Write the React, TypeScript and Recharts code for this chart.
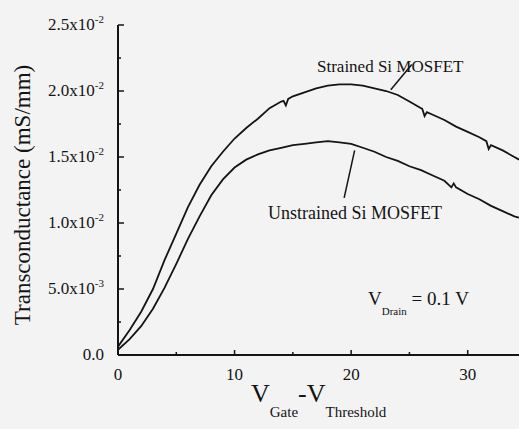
import React from "react";
import { LineChart, Line, XAxis, YAxis, ReferenceLine } from "recharts";

const strained = [
  { x: 0, y: 0.00063 }, { x: 1, y: 0.0019 }, { x: 2, y: 0.0033 }, { x: 3, y: 0.005 },
  { x: 4, y: 0.0072 }, { x: 5, y: 0.0092 }, { x: 6, y: 0.0112 }, { x: 7, y: 0.0129 },
  { x: 8, y: 0.0143 }, { x: 9, y: 0.0154 }, { x: 10, y: 0.0164 }, { x: 11, y: 0.0172 },
  { x: 12, y: 0.0179 }, { x: 13, y: 0.0187 }, { x: 14, y: 0.0192 }, { x: 14.2, y: 0.01925 },
  { x: 14.4, y: 0.0189 }, { x: 14.6, y: 0.0194 }, { x: 15, y: 0.0196 }, { x: 16, y: 0.0199 },
  { x: 17, y: 0.0202 }, { x: 18, y: 0.0204 }, { x: 19, y: 0.0205 }, { x: 20, y: 0.0205 },
  { x: 21, y: 0.0204 }, { x: 22, y: 0.0202 }, { x: 23, y: 0.02 }, { x: 24, y: 0.0197 },
  { x: 25, y: 0.0192 }, { x: 26, y: 0.0187 }, { x: 26.1, y: 0.01865 }, { x: 26.3, y: 0.0181 },
  { x: 26.5, y: 0.0184 }, { x: 27, y: 0.0182 }, { x: 28, y: 0.0178 }, { x: 29, y: 0.0173 },
  { x: 30, y: 0.0169 }, { x: 31, y: 0.0165 }, { x: 31.6, y: 0.0162 }, { x: 31.8, y: 0.0156 },
  { x: 32, y: 0.0159 }, { x: 33, y: 0.0155 }, { x: 34, y: 0.015 }, { x: 34.4, y: 0.0148 },
];

const unstrained = [
  { x: 0, y: 0.0004 }, { x: 1, y: 0.0012 }, { x: 2, y: 0.0022 }, { x: 3, y: 0.0035 },
  { x: 4, y: 0.0051 }, { x: 5, y: 0.0069 }, { x: 6, y: 0.0088 }, { x: 7, y: 0.0105 },
  { x: 8, y: 0.0121 }, { x: 9, y: 0.0133 }, { x: 10, y: 0.0142 }, { x: 11, y: 0.0148 },
  { x: 12, y: 0.0152 }, { x: 13, y: 0.0155 }, { x: 14, y: 0.0157 }, { x: 15, y: 0.0159 },
  { x: 16, y: 0.016 }, { x: 17, y: 0.0161 }, { x: 18, y: 0.0162 }, { x: 19, y: 0.0161 },
  { x: 20, y: 0.016 }, { x: 21, y: 0.0157 }, { x: 22, y: 0.0154 }, { x: 23, y: 0.015 },
  { x: 24, y: 0.0147 }, { x: 25, y: 0.0143 }, { x: 26, y: 0.014 }, { x: 27, y: 0.0136 },
  { x: 28, y: 0.0132 }, { x: 28.6, y: 0.0127 }, { x: 28.8, y: 0.013 }, { x: 29, y: 0.0127 },
  { x: 30, y: 0.0122 }, { x: 31, y: 0.0118 }, { x: 32, y: 0.0113 }, { x: 33, y: 0.0109 },
  { x: 34, y: 0.0105 }, { x: 34.4, y: 0.0104 },
];

const xTicks = [0, 5, 10, 15, 20, 25, 30];
const xMajorLabels: Record<number, string> = { 0: "0", 10: "10", 20: "20", 30: "30" };
const yTicks = [0, 0.0025, 0.005, 0.0075, 0.01, 0.0125, 0.015, 0.0175, 0.02, 0.0225, 0.025];
const yMajorLabels: Record<string, [string, string]> = {
  "0": ["0.0", ""],
  "0.005": ["5.0x10", "-3"],
  "0.01": ["1.0x10", "-2"],
  "0.015": ["1.5x10", "-2"],
  "0.02": ["2.0x10", "-2"],
  "0.025": ["2.5x10", "-2"],
};

const FONT = "\"Liberation Serif\", \"Times New Roman\", \"DejaVu Serif\", serif";
const INK = "#141414";
const TS: React.CSSProperties = { fontFamily: FONT };

const BottomTick = (props: any) => {
  const { x, y, payload } = props;
  const label = xMajorLabels[payload.value];
  const major = label !== undefined;
  return (
    <g>
      <line x1={x} y1={y} x2={x} y2={y - (major ? 5 : 3)} stroke={INK} strokeWidth={1.5} />
      {major && (
        <text x={x} y={y + 25} textAnchor="middle" style={TS} fontSize={17} fill={INK}>
          {label}
        </text>
      )}
    </g>
  );
};

const TopTick = (props: any) => {
  const { x, y, payload } = props;
  const major = xMajorLabels[payload.value] !== undefined;
  return <line x1={x} y1={y} x2={x} y2={y + (major ? 5 : 3)} stroke={INK} strokeWidth={1.5} />;
};

const LeftTick = (props: any) => {
  const { x, y, payload } = props;
  const key = String(payload.value);
  const lab = yMajorLabels[key];
  const major = lab !== undefined;
  return (
    <g>
      <line x1={x} y1={y} x2={x + (major ? 6 : 3)} y2={y} stroke={INK} strokeWidth={1.5} />
      {major && (
        <text x={x - 14} y={y + 5} textAnchor="end" style={TS} fontSize={17} fill={INK}>
          {lab[0]}
          {lab[1] && (
            <tspan dy={-7} fontSize={11}>
              {lab[1]}
            </tspan>
          )}
        </text>
      )}
    </g>
  );
};

export default function App() {
  return (
    <div style={{ position: "absolute", left: 0, top: 0, width: 519, height: 429, background: "#f3f3f3", fontFamily: FONT }}>
      <LineChart
        width={519}
        height={429}
        margin={{ top: 25, right: 0, bottom: 0, left: 0 }}
      >
        <XAxis
          xAxisId="b"
          type="number"
          dataKey="x"
          domain={[0, 34.4]}
          ticks={xTicks}
          allowDataOverflow
          height={74}
          tickSize={0}
          tickMargin={0}
          tickLine={false}
          axisLine={{ stroke: INK, strokeWidth: 2 }}
          tick={<BottomTick />}
        />
        <XAxis
          xAxisId="t"
          orientation="top"
          type="number"
          dataKey="x"
          domain={[0, 34.4]}
          ticks={xTicks}
          allowDataOverflow
          height={0}
          tickSize={0}
          tickMargin={0}
          tickLine={false}
          axisLine={{ stroke: INK, strokeWidth: 2 }}
          tick={<TopTick />}
        />
        <YAxis
          type="number"
          domain={[0, 0.025]}
          ticks={yTicks}
          width={118}
          tickSize={0}
          tickMargin={0}
          tickLine={false}
          axisLine={{ stroke: INK, strokeWidth: 2 }}
          tick={<LeftTick />}
        />
        <Line
          xAxisId="b"
          data={strained}
          dataKey="y"
          type="linear"
          stroke={INK}
          strokeWidth={1.8}
          dot={false}
          isAnimationActive={false}
        />
        <Line
          xAxisId="b"
          data={unstrained}
          dataKey="y"
          type="linear"
          stroke={INK}
          strokeWidth={1.8}
          dot={false}
          isAnimationActive={false}
        />
        <ReferenceLine
          xAxisId="b"
          segment={[{ x: 25.2, y: 0.022 }, { x: 23.4, y: 0.0201 }]}
          stroke={INK}
          strokeWidth={1.5}
        />
        <ReferenceLine
          xAxisId="b"
          segment={[{ x: 20.3, y: 0.0155 }, { x: 19.4, y: 0.0119 }]}
          stroke={INK}
          strokeWidth={1.5}
        />
      </LineChart>
      <svg
        width={519}
        height={429}
        style={{ position: "absolute", left: 0, top: 0, pointerEvents: "none" }}
      >
        <text
          transform="translate(30,195) rotate(-90)"
          textAnchor="middle"
          style={TS}
          fontSize={23}
          fill={INK}
        >
          Transconductance (mS/mm)
        </text>
        <text x={251} y={402} style={TS} fontSize={26} fill={INK}>
          V
          <tspan dy={15} fontSize={15}>Gate</tspan>
          <tspan dy={-15} fontSize={26}>-V</tspan>
          <tspan dy={15} fontSize={15}>Threshold</tspan>
        </text>
        <text x={317} y={72} style={TS} fontSize={17} fill={INK}>
          Strained Si MOSFET
        </text>
        <text x={268} y={219} style={TS} fontSize={18} fill={INK}>
          Unstrained Si MOSFET
        </text>
        <text x={368} y={305} style={TS} fontSize={19} fill={INK}>
          V
          <tspan dy={10} fontSize={11}>Drain</tspan>
          <tspan dy={-10} fontSize={19}> = 0.1 V</tspan>
        </text>
      </svg>
    </div>
  );
}
